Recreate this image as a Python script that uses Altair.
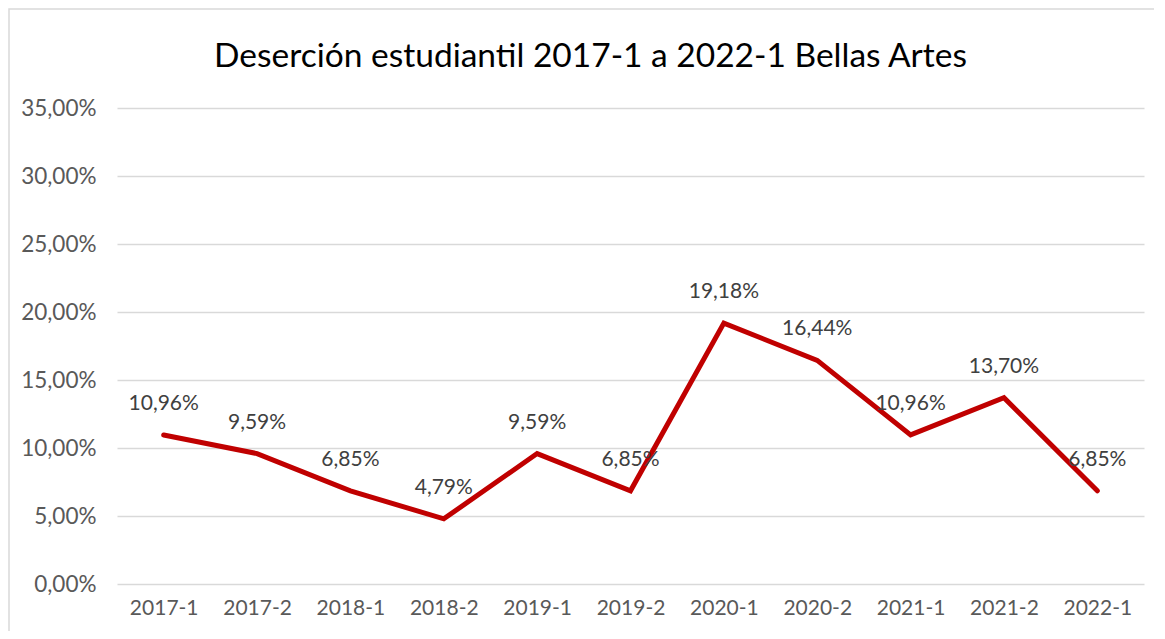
import altair as alt
import pandas as pd

periods = ["2017-1", "2017-2", "2018-1", "2018-2", "2019-1", "2019-2",
           "2020-1", "2020-2", "2021-1", "2021-2", "2022-1"]
rates = [10.96, 9.59, 6.85, 4.79, 9.59, 6.85, 19.18, 16.44, 10.96, 13.70, 6.85]
y_ticks = [0, 5, 10, 15, 20, 25, 30, 35]
title_text = "Deserción estudiantil 2017-1 a 2022-1 Bellas Artes"

df = pd.DataFrame({
    "periodo": periods,
    "tasa": rates,
    "etiqueta": [f"{v:.2f}".replace(".", ",") + "%" for v in rates],
})

FONT = "Lato"
W, H = 1027, 476

x = alt.X("periodo:N", sort=periods, title=None,
          scale=alt.Scale(padding=0.5),
          axis=alt.Axis(labelAngle=0, domain=False, ticks=False, grid=False,
                        labelFont=FONT, labelFontSize=21, labelColor="#595959",
                        labelPadding=13))
y = alt.Y("tasa:Q", title=None,
          scale=alt.Scale(domain=[0, 35], nice=False),
          axis=alt.Axis(values=y_ticks, domain=False, ticks=False, grid=True,
                        gridColor="#d9d9d9", gridWidth=1.3,
                        labelFont=FONT, labelFontSize=22.5, labelColor="#595959",
                        labelPadding=21,
                        labelExpr="replace(format(datum.value, '.2f'), '.', ',') + '%'"))

base = alt.Chart(df)
line = base.mark_line(color="#C00000", strokeWidth=5, strokeCap="round",
                      strokeJoin="miter").encode(x=x, y=y)
text = base.mark_text(dy=-31, font=FONT, fontSize=21, color="#404040",
                      baseline="middle", align="center").encode(
    x=alt.X("periodo:N", sort=periods), y="tasa:Q", text="etiqueta:N")

one = pd.DataFrame({"k": [0]})
border = alt.Chart(one).mark_rect(
    fill=None, stroke="#d9d9d9", strokeWidth=1.5).encode(
    x=alt.value(-108), x2=alt.value(W + 60),
    y=alt.value(-99), y2=alt.value(H + 80))
title = alt.Chart(one).mark_text(
    font=FONT, fontSize=33.5, color="#000000", baseline="alphabetic",
    align="center").encode(
    x=alt.value(W / 2 - 40), y=alt.value(-41), text=alt.value(title_text))

chart = alt.layer(border, title, line, text).properties(
    width=W, height=H,
    autosize=alt.AutoSizeParams(type="none"),
    padding={"left": 109, "top": 100, "right": 10, "bottom": 47},
).configure(background="white").configure_view(stroke=None)

chart.save("out.html", embed_options={"renderer": "svg", "actions": False})
